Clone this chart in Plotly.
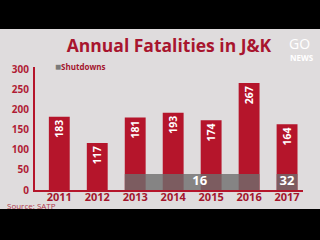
import plotly.graph_objects as go

years = [2011, 2012, 2013, 2014, 2015, 2016, 2017]
fatalities = [183, 117, 181, 193, 174, 267, 164]

# Shutdowns band: 2013-2016 block and 2017
shut_x = [2014.5, 2017]
shut_w = [3.55, 0.55]
shut_h = [40, 40]
shut_label_x = [2014.7, 2017]
shut_labels = ["16", "32"]

ytick_vals = [0, 50, 100, 150, 200, 250, 300]

RED = "#b5152b"
DARK = "#a3162d"
FONT = "Open Sans"

fig = go.Figure()
fig.add_trace(go.Bar(
    x=years, y=fatalities, width=0.55, marker=dict(color=RED, line=dict(width=0)),
    text=[str(v) for v in fatalities], textposition="inside", insidetextanchor="end",
    textangle=-90, textfont=dict(color="white", size=12, family=FONT, weight="bold"),
    showlegend=False, cliponaxis=False,
))
fig.add_trace(go.Bar(
    x=shut_x, y=shut_h, width=shut_w, name="Shutdowns",
    marker=dict(color="#6e6e6e", opacity=0.8, line=dict(width=0)),
    showlegend=False,
))
fig.add_trace(go.Scatter(
    x=shut_label_x, y=[20, 20], mode="text", text=shut_labels,
    textfont=dict(color="white", size=13, family=FONT, weight="bold"),
    showlegend=False,
))

fig.update_layout(
    width=320, height=240, barmode="overlay",
    margin=dict(l=33, r=17, t=67, b=50),
    paper_bgcolor="black", plot_bgcolor="rgba(0,0,0,0)",
    font=dict(family=FONT, color=DARK),
    showlegend=False,
    xaxis=dict(range=[2010.36, 2017.42], tickvals=years, ticktext=[str(y) for y in years],
               showline=True, linecolor=RED, linewidth=2, showgrid=False, zeroline=False,
               ticks="", tickfont=dict(size=11, color=DARK, weight="bold"), ticklabelstandoff=-4),
    yaxis=dict(range=[0, 307], tickvals=ytick_vals, showline=True, linecolor=RED, linewidth=2,
               showgrid=False, zeroline=False, ticks="",
               tickfont=dict(size=10, color="#b01c35", weight="bold"), ticklabelstandoff=2),
    title=dict(text="Annual Fatalities in J&K", x=0.5, xref="paper", y=1 - 46/240, yanchor="middle",
               xanchor="center", font=dict(size=17.5, color="#a8152e", family=FONT, weight="bold")),
    shapes=[dict(type="rect", xref="paper", yref="paper", x0=-40/270, x1=1 + 25/270,
                 y0=-(209 - 190)/123, y1=1 + (67 - 29)/123, fillcolor="#dfdcdd",
                 line=dict(width=0), layer="below")],
    annotations=[
        dict(text="<span style='color:#7a7a7a;font-size:10px'>■</span>Shutdowns", xref="paper",
             yref="paper", x=(51 - 33)/270, y=1 + (67 - 66)/123, xanchor="left", yanchor="middle",
             showarrow=False, font=dict(size=8, color=DARK, family=FONT, weight="bold")),
        dict(text="Source: SATP", xref="paper", yref="paper", x=-30/270, y=-(205 - 190)/123,
             xanchor="left", yanchor="middle", showarrow=False,
             font=dict(size=8, color="#b0384b", family=FONT)),
        dict(text="GO", xref="paper", yref="paper", x=(299 - 33)/270, y=1 + (67 - 43)/123,
             xanchor="center", yanchor="middle", showarrow=False,
             font=dict(size=14, color="white", family=FONT)),
        dict(text="NEWS", xref="paper", yref="paper", x=(302 - 33)/270, y=1 + (67 - 58)/123,
             xanchor="center", yanchor="middle", showarrow=False,
             font=dict(size=8, color="white", family=FONT, weight="bold")),
    ],
)

fig.write_html("out.html")
